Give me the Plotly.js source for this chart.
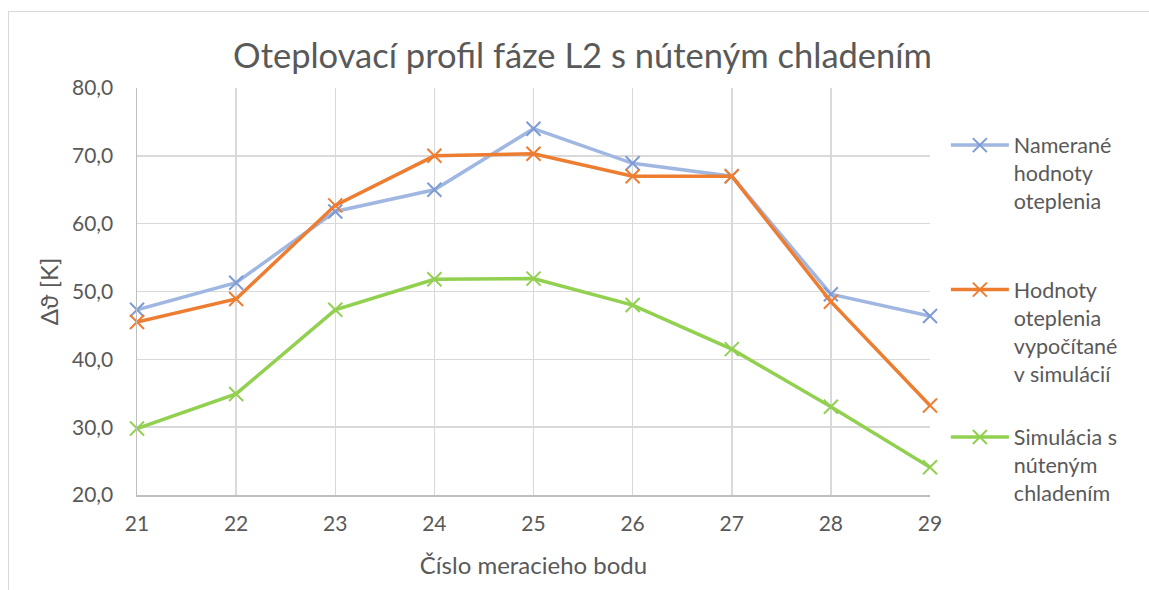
<!DOCTYPE html>
<html>
<head>
<meta charset="utf-8">
<script src="https://cdn.plot.ly/plotly-3.0.1.min.js"></script>
<style>
  html, body { margin: 0; padding: 0; background: #fff; overflow: hidden; }
  #frame { position: absolute; left: 8px; top: 11px; width: 1200px; height: 700px;
           border-top: 1.5px solid #D9D9D9; border-left: 1.5px solid #D9D9D9; pointer-events: none; z-index: 5; }
  #chart { position: absolute; left: 0; top: 0; width: 1149px; height: 590px; }
</style>
</head>
<body>
<div id="chart"></div>
<div id="frame"></div>
<script>
const points = [21, 22, 23, 24, 25, 26, 27, 28, 29];
const measured = [47.3, 51.3, 61.8, 65.0, 74.0, 68.9, 67.0, 49.6, 46.4];
const simulated = [45.5, 48.9, 62.7, 70.0, 70.3, 67.0, 67.0, 48.5, 33.2];
const forcedCooling = [29.8, 34.9, 47.3, 51.8, 51.9, 48.0, 41.5, 33.0, 24.1];
const yTicks = [20, 30, 40, 50, 60, 70, 80];

const names = [
  'Namerané<br>hodnoty<br>oteplenia',
  'Hodnoty<br>oteplenia<br>vypočítané<br>v simulácií',
  'Simulácia s<br>núteným<br>chladením'
];

const FONT = 'Lato, "Open Sans", sans-serif';
const legendFont = {family: FONT, size: 21.5, color: '#595959'};

function tr(y, name, lineColor, markerColor, legendId) {
  return {
    x: points, y: y, name: name, type: 'scatter', mode: 'lines+markers',
    line: {color: lineColor, width: 3.5},
    marker: {symbol: 'x-thin', size: 14, line: {color: markerColor, width: 2}, color: markerColor},
    cliponaxis: false,
    legend: legendId
  };
}

const data = [
  tr(measured, names[0], '#A0B7E1', '#7D9CD6', 'legend'),
  tr(simulated, names[1], '#ED7D31', '#ED7D31', 'legend2'),
  tr(forcedCooling, names[2], '#92D050', '#92D050', 'legend3')
];

function leg(y) {
  return {x: 1.02, xanchor: 'left', y: y, yanchor: 'top', valign: 'top',
          font: legendFont, bgcolor: 'rgba(0,0,0,0)', itemwidth: 58};
}

const layout = {
  width: 1149, height: 590,
  margin: {l: 137, r: 219, t: 88, b: 95},
  paper_bgcolor: '#fff', plot_bgcolor: '#fff',
  separators: ', ',
  title: {text: 'Oteplovací profil fáze L2 s núteným chladením',
          font: {family: FONT, size: 34.5, color: '#595959'},
          x: 0.507, xanchor: 'center', y: 0.905, yanchor: 'middle'},
  xaxis: {
    range: [21, 29], tickvals: points, ticktext: points.map(String),
    showgrid: true, gridcolor: '#D9D9D9', gridwidth: 1.5,
    showline: true, linecolor: '#BFBFBF', linewidth: 1.5,
    ticks: '', ticklabelstandoff: 9, tickfont: {family: FONT, size: 21, color: '#595959'},
    zeroline: false, fixedrange: true,
    title: {text: 'Číslo meracieho bodu', font: {family: FONT, size: 24, color: '#595959'}, standoff: 23}
  },
  yaxis: {
    range: [20, 80], tickvals: yTicks, tickformat: '.1f',
    showgrid: true, gridcolor: '#D9D9D9', gridwidth: 1.5,
    showline: true, linecolor: '#BFBFBF', linewidth: 1.5,
    ticks: '', ticklabelstandoff: 18, tickfont: {family: FONT, size: 21, color: '#595959'},
    zeroline: false, fixedrange: true,
    title: {text: 'Δϑ [K]', font: {family: FONT, size: 24, color: '#595959'}, standoff: 6}
  },
  showlegend: true,
  legend: leg(0.91),
  legend2: leg(0.555),
  legend3: leg(0.193)
};

Plotly.newPlot('chart', data, layout, {displayModeBar: false, staticPlot: true});
</script>
</body>
</html>
